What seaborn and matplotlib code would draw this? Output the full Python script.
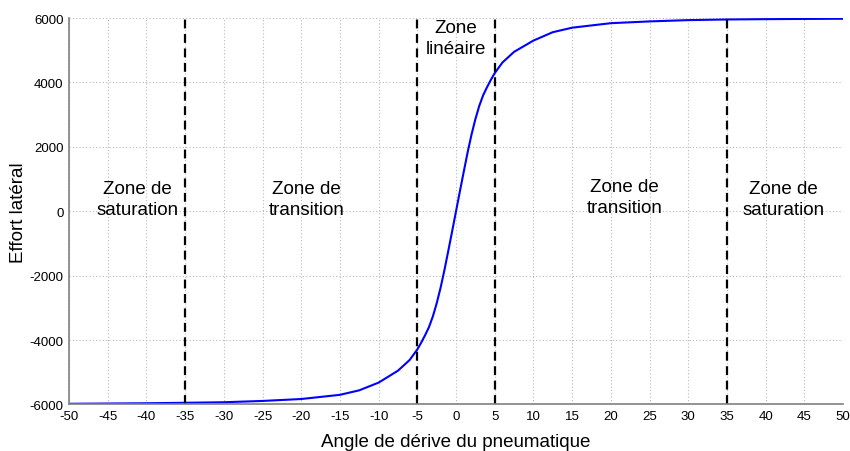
import numpy as np
import pandas as pd
import matplotlib
matplotlib.use('Agg')
import matplotlib.pyplot as plt
import seaborn as sns

# values
angle = [-50, -45, -40, -35, -30, -25, -20, -15, -12.5, -10, -7.5, -6, -5, -4.5, -4, -3.5, -3,
         -2.5, -2, -1.5, -1, -0.5,
         0, 0.5, 1, 1.5, 2, 2.5, 3, 3.5, 4, 4.5, 5, 6, 7.5, 10, 12.5, 15, 20, 25, 30, 35, 40, 45, 50]
effort = [-5978, -5970, -5962, -5947, -5930, -5890, -5830, -5700, -5560, -5320, -4950, -4620, -4290,
          -4080, -3850, -3600, -3270, -2860, -2380, -1830, -1230, -620,
          0, 620, 1230, 1830, 2380, 2860, 3270, 3600, 3850, 4080, 4290, 4620, 4950, 5300, 5560,
          5700, 5840, 5895, 5935, 5955, 5965, 5972, 5978]

zone_lines = [-35, -5, 5, 35]
zone_labels = ['Zone de\nsaturation', 'Zone de\ntransition', 'Zone\nlinéaire',
               'Zone de\ntransition', 'Zone de\nsaturation']
zone_x = [-41.2, -19.3, 0, 21.8, 42.3]
zone_y = [380, 380, 5380, 440, 380]

xticks = list(range(-50, 51, 5))
yticks = list(range(-6000, 6001, 2000))

df = pd.DataFrame({'angle': angle, 'effort': effort})

sns.set_style('whitegrid')
plt.rcParams['font.family'] = ['Liberation Sans', 'DejaVu Sans']
plt.rcParams['text.color'] = 'black'
plt.rcParams['axes.labelcolor'] = 'black'
plt.rcParams['xtick.labelcolor'] = 'black'
plt.rcParams['ytick.labelcolor'] = 'black'

fig = plt.figure(figsize=(8.5, 4.52), dpi=100)
ax = fig.add_axes([0.0812, 0.1029, 0.9106, 0.855])

sns.lineplot(data=df, x='angle', y='effort', ax=ax, color='#0000ff', linewidth=1.5)

for xv in zone_lines:
    ax.axvline(xv, color='black', linestyle=(0, (4, 2.5)), linewidth=1.6)

for lab, xv, yv in zip(zone_labels, zone_x, zone_y):
    ax.text(xv, yv, lab, ha='center', va='center', fontsize=13.5, linespacing=1.35, color='black')

ax.set_xlim(-50, 50)
ax.set_ylim(-6000, 6000)
ax.set_xticks(xticks)
ax.set_yticks(yticks)
ax.set_xticklabels([str(t) for t in xticks], fontsize=9.5)
ax.set_yticklabels([str(t) for t in yticks], fontsize=9.5)

ax.grid(True, color='#b8b8b8', linestyle=(0, (1, 2)), linewidth=0.8)
for side in ['top', 'right']:
    ax.spines[side].set_visible(False)
for side in ['left', 'bottom']:
    ax.spines[side].set_color('#808080')
    ax.spines[side].set_linewidth(1.2)
ax.tick_params(direction='in', length=4, color='#808080', width=1, pad=4)

ax.set_xlabel('Angle de dérive du pneumatique', fontsize=13.5, color='black')
ax.set_ylabel('Effort latéral', fontsize=13.5, color='black')
ax.xaxis.set_label_coords(0.5, -0.075)
ax.yaxis.set_label_coords(-0.054, 0.5)

fig.savefig('out.png', dpi=100)
